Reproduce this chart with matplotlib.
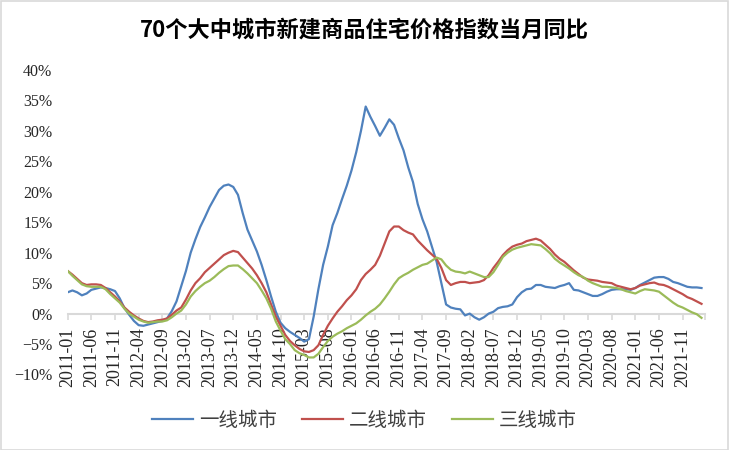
import numpy as np
import pandas as pd
import matplotlib
matplotlib.use('Agg')
import matplotlib.pyplot as plt
from matplotlib.patches import Rectangle

# 2011-01 ... 2022-03, monthly
months = pd.date_range('2011-01', periods=135, freq='MS').strftime('%Y-%m').tolist()

# 一线城市 (%)
tier1 = [3.5, 3.8, 3.5, 3.0, 3.3, 3.9, 4.1, 4.3, 4.2, 4.0, 3.7, 2.5,          # 2011
         0.9, -0.2, -1.2, -1.9, -2.0, -1.8, -1.6, -1.4, -1.2, -0.8, 0.4, 2.0,  # 2012
         4.5, 7.0, 10.0, 12.2, 14.2, 15.8, 17.5, 18.9, 20.3, 21.0, 21.2, 20.8,  # 2013
         19.5, 16.5, 13.8, 12.0, 10.2, 8.0, 5.5, 2.8, 0.3, -1.5, -2.4, -3.0,    # 2014
         -3.5, -4.0, -4.6, -4.2, -0.5, 4.0, 8.0, 11.0, 14.5, 16.5, 18.8, 21.0,  # 2015
         23.5, 26.5, 30.0, 34.0, 32.3, 30.8, 29.2, 30.5, 31.9, 31.0, 28.8, 26.8,  # 2016
         24.0, 21.6, 18.0, 15.5, 13.5, 11.0, 8.5, 5.0, 1.5, 1.0, 0.8, 0.7,      # 2017
         -0.3, 0.0, -0.6, -1.0, -0.6, 0.0, 0.3, 0.9, 1.1, 1.2, 1.5, 2.7,        # 2018
         3.5, 4.0, 4.1, 4.7, 4.7, 4.4, 4.3, 4.2, 4.5, 4.7, 5.0, 3.9,            # 2019
         3.8, 3.5, 3.2, 2.9, 2.9, 3.2, 3.6, 3.9, 4.0, 4.0, 4.0, 3.9,            # 2020
         4.2, 4.7, 5.1, 5.5, 5.9, 6.0, 6.0, 5.7, 5.2, 5.0, 4.7, 4.4,            # 2021
         4.3, 4.3, 4.2]                                                          # 2022

# 二线城市 (%)
tier2 = [7.0, 6.4, 5.7, 5.0, 4.7, 4.8, 4.8, 4.7, 4.2, 3.5, 2.8, 2.0,
         1.0, 0.3, -0.3, -0.8, -1.2, -1.4, -1.3, -1.1, -1.0, -0.8, -0.2, 0.5,
         1.0, 2.3, 3.8, 5.0, 5.8, 6.8, 7.5, 8.2, 8.9, 9.6, 10.0, 10.3,
         10.1, 9.2, 8.3, 7.4, 6.3, 5.0, 3.5, 1.5, -0.5, -2.0, -3.5, -4.5,
         -5.2, -5.8, -6.2, -6.3, -6.0, -5.2, -3.5, -2.0, -0.8, 0.3, 1.2, 2.2,
         3.0, 4.0, 5.5, 6.5, 7.2, 8.0, 9.5, 11.5, 13.5, 14.3, 14.3, 13.7,
         13.3, 13.0, 12.0, 11.2, 10.4, 9.7, 9.0, 7.5, 5.5, 4.7, 5.0, 5.2,
         5.2, 5.0, 5.1, 5.2, 5.5, 6.3, 7.5, 8.5, 9.6, 10.4, 11.0, 11.3,
         11.5, 11.9, 12.1, 12.3, 12.0, 11.3, 10.6, 9.7, 9.0, 8.5, 7.8, 7.1,
         6.5, 5.9, 5.6, 5.5, 5.4, 5.2, 5.1, 5.0, 4.6, 4.4, 4.2, 4.0,
         4.2, 4.6, 4.8, 5.0, 5.1, 4.8, 4.7, 4.4, 4.0, 3.6, 3.2, 2.7,
         2.4, 2.0, 1.6]

# 三线城市 (%)
tier3 = [7.0, 6.2, 5.5, 4.8, 4.5, 4.4, 4.4, 4.4, 4.0, 3.2, 2.5, 1.8,
         0.8, 0.0, -0.5, -1.0, -1.3, -1.5, -1.4, -1.3, -1.3, -1.1, -0.6, 0.0,
         0.5, 1.5, 2.8, 3.7, 4.4, 5.0, 5.4, 6.0, 6.7, 7.3, 7.8, 7.9,
         7.9, 7.3, 6.6, 5.8, 5.0, 3.8, 2.5, 0.8, -1.3, -2.8, -4.2, -5.0,
         -6.0, -6.5, -6.8, -7.2, -7.2, -6.6, -5.5, -4.5, -3.8, -3.3, -2.9, -2.4,
         -2.0, -1.6, -1.0, -0.3, 0.3, 0.8, 1.5, 2.5, 3.6, 4.8, 5.8, 6.3,
         6.7, 7.2, 7.6, 8.0, 8.2, 8.7, 9.2, 8.9, 7.9, 7.2, 6.9, 6.8,
         6.6, 6.9, 6.6, 6.3, 6.0, 6.0, 6.8, 8.0, 9.3, 10.0, 10.5, 10.8,
         11.0, 11.2, 11.4, 11.3, 11.2, 10.6, 9.9, 9.0, 8.4, 7.9, 7.4, 6.8,
         6.3, 6.0, 5.4, 5.0, 4.7, 4.4, 4.4, 4.3, 4.2, 4.0, 3.7, 3.5,
         3.3, 3.7, 4.0, 3.9, 3.8, 3.6, 3.0, 2.4, 1.8, 1.3, 1.0, 0.6,
         0.2, -0.1, -0.7]

names = ['一线城市', '二线城市', '三线城市']
colors = ['#4F81BD', '#C0504D', '#9BBB59']
yticks = [-10, -5, 0, 5, 10, 15, 20, 25, 30, 35, 40]

W, H = 729, 450
fig = plt.figure(figsize=(W / 100, H / 100), dpi=100)
ax = fig.add_axes([67.7 / W, (H - 374.5) / H, (705.3 - 67.7) / W, 304.5 / H])

# spines first: set_position resets the tick styling
for s in ['left', 'right', 'top']:
    ax.spines[s].set_visible(False)
ax.spines['bottom'].set_position(('data', 0))
ax.spines['bottom'].set_color('#D9D9D9')
ax.spines['bottom'].set_linewidth(1.5)
ax.spines['bottom'].set_zorder(0)

x = np.arange(len(months))
for vals, name, c in zip([tier1, tier2, tier3], names, colors):
    ax.plot(x, vals, color=c, lw=1.6, label=name, solid_joinstyle='round')

ax.set_xlim(0, 134.8)
ax.set_ylim(-10, 40)

ax.set_yticks(yticks)
ax.set_yticklabels([f'{v}%'.replace('-', '\u2212') for v in yticks],
                   family='Liberation Serif', fontsize=11.5, color='#262626')
ax.tick_params(axis='y', length=0, pad=11)

ax.set_xticks(x[::5])
ax.set_xticklabels(months[::5], rotation=90, family='Liberation Serif',
                   fontsize=13, color='#262626', va='top', ha='center')
ax.set_xticks([134.8], minor=True)
ax.tick_params(axis='x', which='both', direction='out', length=4, width=1.2,
               color='#D9D9D9', pad=6)

fig.text(0.5, 1 - 30 / H, '70个大中城市新建商品住宅价格指数当月同比',
         ha='center', va='center', family=['Noto Sans CJK SC', 'DejaVu Sans'],
         fontsize=16, fontweight='bold', color='black')

fig.legend(loc='center', bbox_to_anchor=(0.5, 1 - 420 / H), ncol=3, frameon=False,
           prop={'family': ['Noto Sans CJK SC'], 'size': 14},
           labelcolor='#404040', handlelength=2.1, handletextpad=0.3,
           columnspacing=1.3)

fig.patches.append(Rectangle((0.5 / W, 0.5 / H), 1 - 1.5 / W, 1 - 1.5 / H,
                             transform=fig.transFigure, fill=False,
                             edgecolor='#D9D9D9', lw=1.2))

fig.savefig('out.png', dpi=100)
